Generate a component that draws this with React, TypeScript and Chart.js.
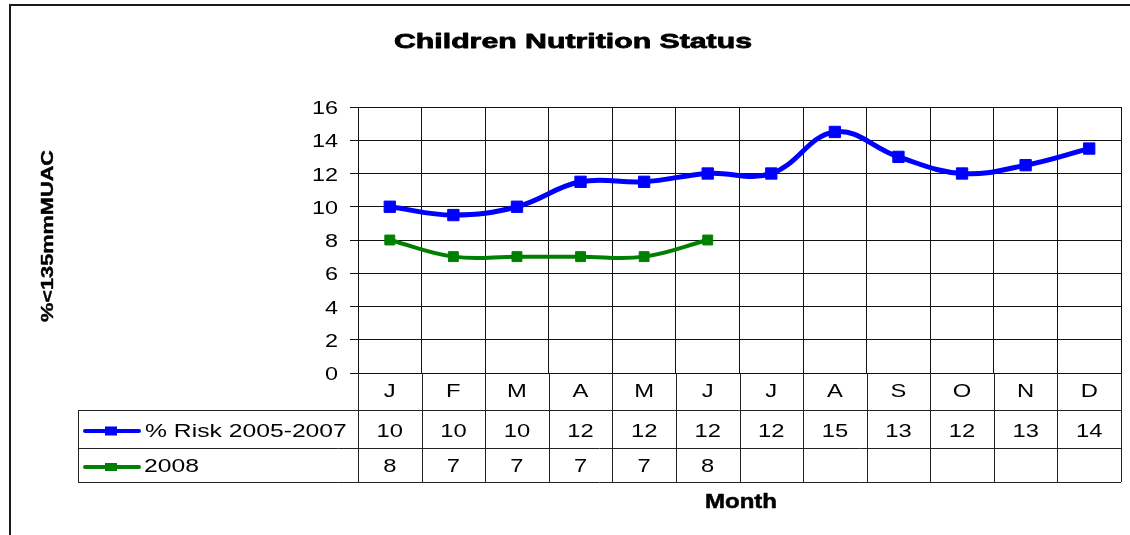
import React, { useEffect, useRef } from 'react';
import Chart from 'chart.js/auto';

const months = ['J', 'F', 'M', 'A', 'M', 'J', 'J', 'A', 'S', 'O', 'N', 'D'];
const riskLabel = '% Risk 2005-2007';
const riskValues = [10, 9.5, 10, 11.5, 11.5, 12, 12, 14.5, 13, 12, 12.5, 13.5];
const label2008 = '2008';
const values2008: (number | null)[] = [8, 7, 7, 7, 7, 8, null, null, null, null, null, null];
const yMin = 0;
const yMax = 16;
const yStep = 2;
const titleText = 'Children Nutrition Status';
const yTitleText = '%<135mmMUAC';
const xTitleText = 'Month';

const FAMILY = '"Liberation Sans", Arial, sans-serif';
const BLUE = '#0000FF';
const GREEN = '#008000';

function drawText(
  ctx: CanvasRenderingContext2D,
  text: string,
  x: number,
  y: number,
  font: string,
  align: CanvasTextAlign,
  sx: number,
  targetWidth?: number,
  stroke?: number
) {
  ctx.save();
  ctx.font = font;
  ctx.fillStyle = '#000';
  ctx.textAlign = align;
  ctx.textBaseline = 'alphabetic';
  let s = sx;
  if (targetWidth) s = targetWidth / ctx.measureText(text).width;
  ctx.translate(x, y);
  ctx.scale(s, 1);
  ctx.fillText(text, 0, 0);
  if (stroke) {
    ctx.strokeStyle = '#000';
    ctx.lineWidth = stroke;
    ctx.lineJoin = 'round';
    ctx.strokeText(text, 0, 0);
  }
  ctx.restore();
}

const decorPlugin = {
  id: 'decor',
  afterDraw(chart: any) {
    const ctx: CanvasRenderingContext2D = chart.ctx;
    const area = chart.chartArea;
    const xs = chart.scales.x;
    const ys = chart.scales.y;

    // outer frame (extends beyond the canvas on the right/bottom)
    ctx.save();
    ctx.fillStyle = '#1a1a1a';
    ctx.fillRect(9, 4, 1200, 2);
    ctx.fillRect(9, 4, 2, 700);
    ctx.restore();

    // titles
    drawText(ctx, titleText, 573, 48, `bold 21px ${FAMILY}`, 'center', 1, 358, 0.8);
    drawText(ctx, xTitleText, 741, 508, `bold 20px ${FAMILY}`, 'center', 1, 72, 0.5);
    ctx.save();
    ctx.translate(53, 236);
    ctx.rotate(-Math.PI / 2);
    drawText(ctx, yTitleText, 0, 0, `bold 16px ${FAMILY}`, 'center', 1, 172, 0.4);
    ctx.restore();

    // y tick labels
    ys.ticks.forEach((t: any) => {
      const py = ys.getPixelForValue(t.value);
      drawText(ctx, String(t.value), 338, py + 7, `18px ${FAMILY}`, 'right', 1.3);
    });

    // data table
    const n = months.length;
    const colW = (area.right - area.left) / n;
    const top = area.bottom;
    const r1 = top + 37;
    const r2 = r1 + 38;
    const r3 = r2 + 34;
    const legLeft = 78;
    ctx.save();
    ctx.strokeStyle = '#222';
    ctx.lineWidth = 1;
    ctx.beginPath();
    const h = (y: number) => Math.round(y) + 0.5;
    ctx.moveTo(area.left, h(r1));
    ctx.lineTo(area.right, h(r1));
    ctx.moveTo(legLeft, h(r1));
    ctx.lineTo(area.left, h(r1));
    ctx.moveTo(legLeft, h(r2));
    ctx.lineTo(area.right, h(r2));
    ctx.moveTo(legLeft, h(r3));
    ctx.lineTo(area.right, h(r3));
    ctx.moveTo(h(legLeft), r1);
    ctx.lineTo(h(legLeft), r3);
    for (let i = 0; i <= n; i++) {
      const cx = i < n ? xs.getPixelForValue(i) - colW / 2 : xs.getPixelForValue(n - 1) + colW / 2;
      ctx.moveTo(h(cx), top);
      ctx.lineTo(h(cx), r3);
    }
    ctx.stroke();
    ctx.restore();

    months.forEach((m, i) => {
      const cx = xs.getPixelForValue(i);
      drawText(ctx, m, cx, 397, `19px ${FAMILY}`, 'center', 1.25);
      const v1 = riskValues[i];
      if (v1 != null) drawText(ctx, String(Math.round(v1)), cx, 437, `19px ${FAMILY}`, 'center', 1.25);
      const v2 = values2008[i];
      if (v2 != null) drawText(ctx, String(Math.round(v2)), cx, 472, `19px ${FAMILY}`, 'center', 1.25);
    });

    // legend keys
    const legendKey = (y: number, color: string, w: number, hgt: number, lw: number) => {
      ctx.save();
      ctx.strokeStyle = color;
      ctx.lineWidth = lw;
      ctx.lineCap = 'round';
      ctx.beginPath();
      ctx.moveTo(85, y);
      ctx.lineTo(139, y);
      ctx.stroke();
      ctx.fillStyle = color;
      ctx.fillRect(111 - w / 2, y - hgt / 2, w, hgt);
      ctx.restore();
    };
    legendKey(431, BLUE, 12, 9, 4);
    legendKey(467, GREEN, 12, 8, 4);
    drawText(ctx, riskLabel, 145, 437, `19px ${FAMILY}`, 'left', 1.3);
    drawText(ctx, label2008, 144, 472, `19px ${FAMILY}`, 'left', 1.3);
  },
};

export default function App() {
  const ref = useRef<HTMLCanvasElement | null>(null);
  useEffect(() => {
    if (!ref.current) return;
    const chart = new Chart(ref.current, {
      type: 'line',
      data: {
        labels: months,
        datasets: [
          {
            label: riskLabel,
            data: riskValues,
            borderColor: BLUE,
            backgroundColor: BLUE,
            borderWidth: 5,
            tension: 0.4,
            pointStyle: 'rect',
            pointRadius: 8,
            pointBorderWidth: 1,
            pointBackgroundColor: BLUE,
            pointBorderColor: BLUE,
          },
          {
            label: label2008,
            data: values2008,
            borderColor: GREEN,
            backgroundColor: GREEN,
            borderWidth: 4,
            tension: 0.4,
            pointStyle: 'rect',
            pointRadius: 7,
            pointBorderWidth: 1,
            pointBackgroundColor: GREEN,
            pointBorderColor: GREEN,
            spanGaps: false,
          },
        ],
      },
      options: {
        responsive: false,
        animation: false,
        layout: { padding: { top: 107, left: 298, right: 7, bottom: 162 } },
        plugins: {
          legend: { display: false },
          title: { display: false },
          tooltip: { enabled: false },
        },
        scales: {
          x: {
            offset: true,
            ticks: { display: false },
            grid: { color: '#111', lineWidth: 1, offset: true, drawTicks: false },
            border: { color: '#111' },
            afterFit: (s: any) => {
              s.height = 0;
            },
          },
          y: {
            min: yMin,
            max: yMax,
            ticks: { stepSize: yStep, color: 'rgba(0,0,0,0)', font: { size: 18 } },
            grid: { color: '#111', lineWidth: 1, tickLength: 8, drawTicks: true },
            border: { color: '#111' },
            afterFit: (s: any) => {
              s.width = 60;
            },
          },
        },
      },
      plugins: [decorPlugin],
    });
    return () => chart.destroy();
  }, []);
  return (
    <div style={{ position: 'absolute', left: 0, top: 0, width: 1130, height: 535, background: '#fff' }}>
      <canvas ref={ref} width={1130} height={535} style={{ display: 'block' }} />
    </div>
  );
}
